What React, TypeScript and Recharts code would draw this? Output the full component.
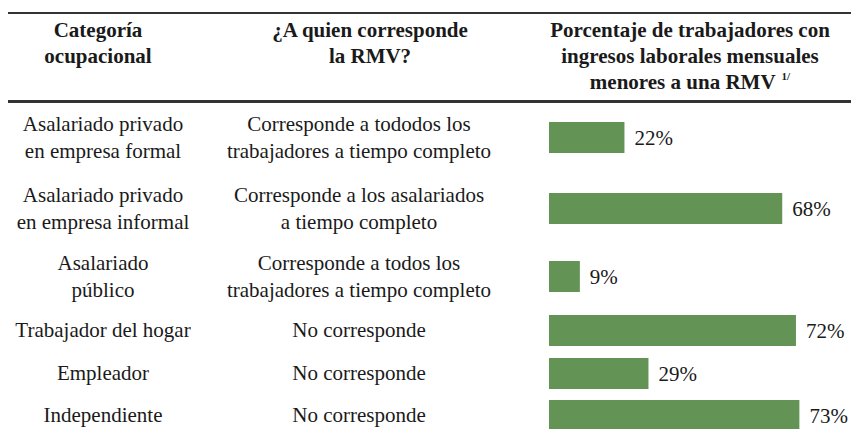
import { BarChart, Bar, XAxis, YAxis, LabelList } from 'recharts';

const categorias = [
  'Asalariado privado\nen empresa formal',
  'Asalariado privado\nen empresa informal',
  'Asalariado\npúblico',
  'Trabajador del hogar',
  'Empleador',
  'Independiente',
];

const correspondeRmv = [
  'Corresponde a tododos los\ntrabajadores a tiempo completo',
  'Corresponde a los asalariados\na tiempo completo',
  'Corresponde a todos los\ntrabajadores a tiempo completo',
  'No corresponde',
  'No corresponde',
  'No corresponde',
];

const porcentajes = [22, 68, 9, 72, 29, 73];

const encabezados = [
  ['Categoría', 'ocupacional'],
  ['¿A quien corresponde', 'la RMV?'],
  ['Porcentaje de trabajadores con', 'ingresos laborales mensuales', 'menores a una RMV'],
];
const notaEncabezado = '1/';

const FONT = "'Liberation Serif', 'DejaVu Serif', Tinos, 'Times New Roman', serif";
const TEXT = '#1a1a1a';
const GREEN = '#639456';
const RULE = '#333333';
const LINE_H = 26.5;
// row heights follow the reference's uneven spacing
const ROW_H = [71, 71, 65, 42.5, 42.5, 42.5];

function RowBar({ value, height }: { value: number; height: number }) {
  return (
    <div style={{ width: 302, height, overflow: 'hidden' }}>
      <BarChart
        width={343}
        height={height}
        data={[{ name: 'v', value }]}
        layout="vertical"
        margin={{ top: 0, right: 0, bottom: 0, left: 0 }}
      >
        <XAxis type="number" domain={[0, 100]} hide />
        <YAxis type="category" dataKey="name" hide />
        <Bar dataKey="value" fill={GREEN} barSize={31} isAnimationActive={false}>
          <LabelList
            dataKey="value"
            position="right"
            offset={10}
            formatter={(v: any) => `${v}%`}
            style={{ fill: TEXT, fontSize: 21, fontFamily: FONT }}
          />
        </Bar>
      </BarChart>
    </div>
  );
}

function Header({ lines, left, width, note }: { lines: string[]; left: number; width: number; note?: string }) {
  return (
    <div
      style={{
        position: 'absolute',
        left,
        width,
        top: 17,
        textAlign: 'center',
        fontWeight: 700,
        fontSize: 21,
        lineHeight: '26px',
      }}
    >
      {lines.map((l, j) => (
        <div key={l}>
          <span>{l}</span>
          {note && j === lines.length - 1 && (
            <span style={{ fontSize: 11, verticalAlign: 'top', lineHeight: '14px', marginLeft: 6 }}>{note}</span>
          )}
        </div>
      ))}
    </div>
  );
}

export default function App() {
  return (
    <div
      style={{
        position: 'absolute',
        left: 0,
        top: 0,
        width: 851,
        height: 429,
        overflow: 'hidden',
        background: '#fff',
        fontFamily: FONT,
        color: TEXT,
      }}
    >
      <div style={{ position: 'absolute', left: 8, right: 0, top: 12, height: 2, background: RULE }} />

      <Header lines={encabezados[0]} left={0} width={196} />
      <Header lines={encabezados[1]} left={215} width={310} />
      <Header lines={encabezados[2]} left={529} width={322} note={notaEncabezado} />

      <div style={{ position: 'absolute', left: 8, right: 0, top: 100, height: 2.5, background: RULE }} />

      <div style={{ position: 'absolute', left: 0, top: 102, width: 851 }}>
        {categorias.map((cat, i) => {
          const h = ROW_H[i];
          return (
            <div key={cat} style={{ display: 'flex', alignItems: 'center', height: h, fontSize: 21, lineHeight: `${LINE_H}px` }}>
              <div style={{ width: 206, textAlign: 'center', whiteSpace: 'pre-line' }}>{cat}</div>
              <div style={{ width: 306, textAlign: 'center', whiteSpace: 'pre-line' }}>{correspondeRmv[i]}</div>
              <div style={{ width: 37 }} />
              <RowBar value={porcentajes[i]} height={h} />
            </div>
          );
        })}
      </div>
    </div>
  );
}
